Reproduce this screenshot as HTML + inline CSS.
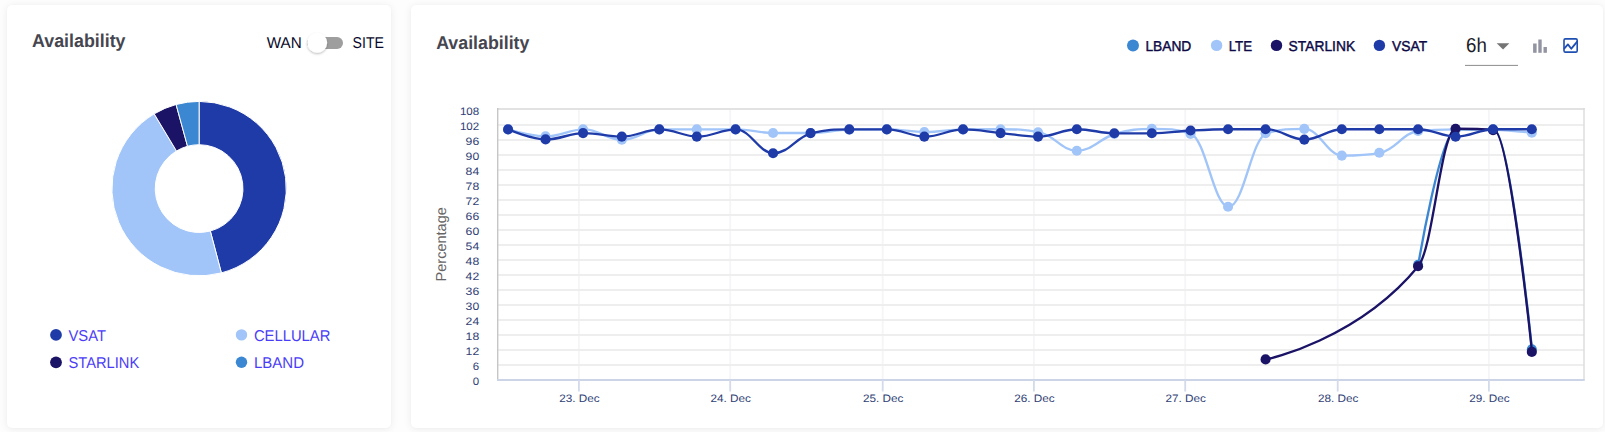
<!DOCTYPE html>
<html><head><meta charset="utf-8"><title>Availability</title>
<style>
html,body{margin:0;padding:0;}
body{width:1605px;height:432px;background:#fdfdfd;overflow:hidden;position:relative;font-family:"Liberation Sans",sans-serif;}
.card{position:absolute;background:#fff;border-radius:5px;box-shadow:0 1px 9px rgba(0,0,0,.075),0 0 2px rgba(0,0,0,.025);}
#c1{left:7px;top:5px;width:384px;height:423px;}
#c2{left:411px;top:5px;width:1192px;height:423px;}
svg{position:absolute;left:0;top:0;}
text{font-family:"Liberation Sans",sans-serif;text-rendering:geometricPrecision;}
.h{font-size:18.6px;font-weight:bold;fill:#45464f;}
.sw{font-size:15.7px;fill:#08082a;}
.lg{font-size:15.7px;fill:#4a3df7;}
.lr{font-size:14.4px;fill:#0e0a46;stroke:#0e0a46;stroke-width:.42px;}
.ax{font-size:10.8px;fill:#2f4175;}
.yt{font-size:14.5px;fill:#666;}
.sel{font-size:20.2px;fill:#1d1d27;}
</style></head><body>
<div class="card" id="c1"></div><div class="card" id="c2"></div>
<svg width="1605" height="432" viewBox="0 0 1605 432">
<defs><filter id="ts" x="-50%" y="-50%" width="200%" height="200%"><feDropShadow dx="0" dy="1.2" stdDeviation="1.3" flood-color="#000" flood-opacity=".27"/></filter></defs>
<!-- left card -->
<text x="32.1" y="46.5" textLength="93.4" lengthAdjust="spacingAndGlyphs" class="h">Availability</text>

<text x="266.8" y="47.9" textLength="35.0" lengthAdjust="spacingAndGlyphs" class="sw">WAN</text>

<text x="352.6" y="47.9" textLength="31.4" lengthAdjust="spacingAndGlyphs" class="sw">SITE</text>

<rect x="307" y="36.9" width="36" height="12" rx="6" fill="#9e9e9e"/>
<circle cx="317.2" cy="42.8" r="10" fill="#fff" filter="url(#ts)"/>
<path d="M199.10 101.40A87.2 87.2 0 0 1 221.37 272.91L210.31 231.04A43.9 43.9 0 0 0 199.10 144.70Z" fill="#1f3ba8" stroke="#fff" stroke-width="1" stroke-linejoin="round"/>
<path d="M221.37 272.91A87.2 87.2 0 0 1 154.19 113.86L176.49 150.97A43.9 43.9 0 0 0 210.31 231.04Z" fill="#a1c5f8" stroke="#fff" stroke-width="1" stroke-linejoin="round"/>
<path d="M154.19 113.86A87.2 87.2 0 0 1 176.09 104.49L187.52 146.26A43.9 43.9 0 0 0 176.49 150.97Z" fill="#1b1366" stroke="#fff" stroke-width="1" stroke-linejoin="round"/>
<path d="M176.09 104.49A87.2 87.2 0 0 1 199.10 101.40L199.10 144.70A43.9 43.9 0 0 0 187.52 146.26Z" fill="#3c87d2" stroke="#fff" stroke-width="1" stroke-linejoin="round"/>

<circle cx="56" cy="334.9" r="5.9" fill="#1f3ba8"/><text x="68.5" y="340.8" textLength="37.5" lengthAdjust="spacingAndGlyphs" class="lg">VSAT</text>

<circle cx="56" cy="362.3" r="5.9" fill="#1b1366"/><text x="68.5" y="367.6" textLength="70.8" lengthAdjust="spacingAndGlyphs" class="lg">STARLINK</text>

<circle cx="241.5" cy="334.9" r="5.7" fill="#a1c5f8"/><text x="253.9" y="340.8" textLength="76.5" lengthAdjust="spacingAndGlyphs" class="lg">CELLULAR</text>

<circle cx="241.5" cy="362.3" r="5.7" fill="#3c87d2"/><text x="253.9" y="367.6" textLength="50.1" lengthAdjust="spacingAndGlyphs" class="lg">LBAND</text>

<!-- right card -->
<text x="436.2" y="48.7" textLength="93.2" lengthAdjust="spacingAndGlyphs" class="h">Availability</text>

<circle cx="1133" cy="45.4" r="6" fill="#3c87d2"/><text x="1145.4" y="50.9" textLength="45.9" lengthAdjust="spacingAndGlyphs" class="lr">LBAND</text>

<circle cx="1216.6" cy="45.4" r="5.7" fill="#a1c5f8"/><text x="1228.7" y="50.9" textLength="23.4" lengthAdjust="spacingAndGlyphs" class="lr">LTE</text>

<circle cx="1276.5" cy="45.4" r="5.7" fill="#1b1366"/><text x="1288.6" y="50.9" textLength="66.5" lengthAdjust="spacingAndGlyphs" class="lr">STARLINK</text>

<circle cx="1379.4" cy="45.4" r="5.7" fill="#1f3ba8"/><text x="1392.1" y="50.9" textLength="35.0" lengthAdjust="spacingAndGlyphs" class="lr">VSAT</text>

<text x="1466" y="51.8" textLength="20.8" lengthAdjust="spacingAndGlyphs" class="sel">6h</text>

<path d="M1496.7 43.2h12.7l-6.35 6.3z" fill="#757575"/>
<rect x="1465" y="64.9" width="53" height="1" fill="#8d8d8d"/>
<g fill="#9394a2"><rect x="1533.1" y="43.5" width="3.5" height="9.3"/><rect x="1538.3" y="39.5" width="3.4" height="13.3"/><rect x="1543.5" y="47" width="3.4" height="5.8"/></g>
<g fill="none" stroke="#1f4fb0" stroke-width="1.6" stroke-linejoin="round" stroke-linecap="round">
<rect x="1564" y="38.9" width="13.2" height="13.2" rx="1.4"/>
<path d="M1564.4 48.3L1567.9 44.4L1571.3 48.7L1577.2 41.6" stroke-width="1.8"/></g>
<!-- chart -->
<rect x="578.00" y="109.0" width="1.8" height="271.0" fill="#f5f5f8"/><rect x="729.30" y="109.0" width="1.8" height="271.0" fill="#f5f5f8"/><rect x="881.80" y="109.0" width="1.8" height="271.0" fill="#f5f5f8"/><rect x="1033.00" y="109.0" width="1.8" height="271.0" fill="#f5f5f8"/><rect x="1184.30" y="109.0" width="1.8" height="271.0" fill="#f5f5f8"/><rect x="1336.80" y="109.0" width="1.8" height="271.0" fill="#f5f5f8"/><rect x="1488.00" y="109.0" width="1.8" height="271.0" fill="#f5f5f8"/><rect x="497.7" y="364" width="1086.3" height="2" fill="#eeeeee"/><rect x="497.7" y="349" width="1086.3" height="2" fill="#eeeeee"/><rect x="497.7" y="334" width="1086.3" height="2" fill="#eeeeee"/><rect x="497.7" y="319" width="1086.3" height="2" fill="#eeeeee"/><rect x="497.7" y="304" width="1086.3" height="2" fill="#eeeeee"/><rect x="497.7" y="289" width="1086.3" height="2" fill="#eeeeee"/><rect x="497.7" y="274" width="1086.3" height="2" fill="#eeeeee"/><rect x="497.7" y="259" width="1086.3" height="2" fill="#eeeeee"/><rect x="497.7" y="244" width="1086.3" height="2" fill="#eeeeee"/><rect x="497.7" y="229" width="1086.3" height="2" fill="#eeeeee"/><rect x="497.7" y="214" width="1086.3" height="2" fill="#eeeeee"/><rect x="497.7" y="199" width="1086.3" height="2" fill="#eeeeee"/><rect x="497.7" y="184" width="1086.3" height="2" fill="#eeeeee"/><rect x="497.7" y="169" width="1086.3" height="2" fill="#eeeeee"/><rect x="497.7" y="154" width="1086.3" height="2" fill="#eeeeee"/><rect x="497.7" y="139" width="1086.3" height="2" fill="#eeeeee"/><rect x="497.7" y="124" width="1086.3" height="2" fill="#eeeeee"/>
<rect x="497.0" y="108" width="1087.7" height="2" fill="#e2e2e2"/><rect x="497.0" y="108" width="1.4" height="272" fill="#c6c6c6"/><rect x="1583.3" y="108" width="1.4" height="272" fill="#dcdcdc"/><rect x="497.0" y="379" width="1087.7" height="2" fill="#ccd4e8"/><rect x="578.00" y="380" width="1.8" height="11.5" fill="#d3daec"/><rect x="729.30" y="380" width="1.8" height="11.5" fill="#d3daec"/><rect x="881.80" y="380" width="1.8" height="11.5" fill="#d3daec"/><rect x="1033.00" y="380" width="1.8" height="11.5" fill="#d3daec"/><rect x="1184.30" y="380" width="1.8" height="11.5" fill="#d3daec"/><rect x="1336.80" y="380" width="1.8" height="11.5" fill="#d3daec"/><rect x="1488.00" y="380" width="1.8" height="11.5" fill="#d3daec"/>

<text x="472.8" y="384.6" textLength="6.4" lengthAdjust="spacingAndGlyphs" class="ax">0</text><text x="472.8" y="369.6" textLength="6.4" lengthAdjust="spacingAndGlyphs" class="ax">6</text><text x="465.6" y="354.6" textLength="13.6" lengthAdjust="spacingAndGlyphs" class="ax">12</text><text x="465.6" y="339.6" textLength="13.6" lengthAdjust="spacingAndGlyphs" class="ax">18</text><text x="465.6" y="324.6" textLength="13.6" lengthAdjust="spacingAndGlyphs" class="ax">24</text><text x="465.6" y="309.6" textLength="13.6" lengthAdjust="spacingAndGlyphs" class="ax">30</text><text x="465.6" y="294.6" textLength="13.6" lengthAdjust="spacingAndGlyphs" class="ax">36</text><text x="465.6" y="279.6" textLength="13.6" lengthAdjust="spacingAndGlyphs" class="ax">42</text><text x="465.6" y="264.6" textLength="13.6" lengthAdjust="spacingAndGlyphs" class="ax">48</text><text x="465.6" y="249.6" textLength="13.6" lengthAdjust="spacingAndGlyphs" class="ax">54</text><text x="465.6" y="234.6" textLength="13.6" lengthAdjust="spacingAndGlyphs" class="ax">60</text><text x="465.6" y="219.6" textLength="13.6" lengthAdjust="spacingAndGlyphs" class="ax">66</text><text x="465.6" y="204.6" textLength="13.6" lengthAdjust="spacingAndGlyphs" class="ax">72</text><text x="465.6" y="189.6" textLength="13.6" lengthAdjust="spacingAndGlyphs" class="ax">78</text><text x="465.6" y="174.6" textLength="13.6" lengthAdjust="spacingAndGlyphs" class="ax">84</text><text x="465.6" y="159.6" textLength="13.6" lengthAdjust="spacingAndGlyphs" class="ax">90</text><text x="465.6" y="144.6" textLength="13.6" lengthAdjust="spacingAndGlyphs" class="ax">96</text><text x="459.9" y="129.6" textLength="19.3" lengthAdjust="spacingAndGlyphs" class="ax">102</text><text x="459.9" y="114.6" textLength="19.3" lengthAdjust="spacingAndGlyphs" class="ax">108</text>
<text x="559.2" y="402.2" textLength="40.5" lengthAdjust="spacingAndGlyphs" class="ax">23. Dec</text><text x="710.5" y="402.2" textLength="40.5" lengthAdjust="spacingAndGlyphs" class="ax">24. Dec</text><text x="863.0" y="402.2" textLength="40.5" lengthAdjust="spacingAndGlyphs" class="ax">25. Dec</text><text x="1014.2" y="402.2" textLength="40.5" lengthAdjust="spacingAndGlyphs" class="ax">26. Dec</text><text x="1165.5" y="402.2" textLength="40.5" lengthAdjust="spacingAndGlyphs" class="ax">27. Dec</text><text x="1318.0" y="402.2" textLength="40.5" lengthAdjust="spacingAndGlyphs" class="ax">28. Dec</text><text x="1469.2" y="402.2" textLength="40.5" lengthAdjust="spacingAndGlyphs" class="ax">29. Dec</text>
<text transform="translate(446,244.3) rotate(-90)" text-anchor="middle" textLength="74.3" lengthAdjust="spacingAndGlyphs" class="yt">Percentage</text>
<path d="M1418.27 264.70 C1418.27 264.70 1441.02 129.40 1456.19 129.40 C1471.36 129.40 1478.94 129.40 1494.11 129.60 C1509.27 129.80 1532.02 349.40 1532.02 349.40" fill="none" stroke="#3c87d2" stroke-width="2.35" stroke-linejoin="round" stroke-linecap="round"/>
<circle cx="1418.06" cy="264.70" r="5.05" fill="#3c87d2"/><circle cx="1455.56" cy="129.40" r="5.05" fill="#3c87d2"/><circle cx="1493.06" cy="129.60" r="5.05" fill="#3c87d2"/><circle cx="1531.81" cy="349.40" r="5.05" fill="#3c87d2"/>

<path d="M508.27 129.40 C508.27 129.40 531.02 136.30 546.19 136.30 C561.36 136.30 568.94 129.40 584.11 129.40 C599.27 129.40 606.86 139.80 622.02 139.80 C637.19 139.80 644.77 129.40 659.94 129.40 C675.11 129.40 682.69 129.40 697.86 129.40 C713.02 129.40 720.61 129.40 735.77 129.40 C750.94 129.40 758.52 133.00 773.69 133.00 C788.86 133.00 796.44 133.00 811.61 133.00 C826.77 133.00 834.36 129.80 849.52 129.60 C864.69 129.40 872.27 129.40 887.44 129.40 C902.61 129.40 910.19 132.00 925.36 132.00 C940.52 132.00 948.11 129.60 963.27 129.40 C978.44 129.20 986.02 129.20 1001.19 129.20 C1016.36 129.20 1023.94 129.20 1039.11 132.20 C1054.27 135.20 1061.86 150.80 1077.02 150.80 C1092.19 150.80 1099.77 138.40 1114.94 134.00 C1130.11 129.60 1137.69 128.80 1152.86 128.80 C1168.02 128.80 1175.61 128.80 1190.77 133.90 C1205.94 139.00 1213.52 206.70 1228.69 206.70 C1243.86 206.70 1251.44 137.70 1266.61 133.30 C1281.77 128.90 1289.36 128.90 1304.52 128.90 C1319.69 128.90 1327.27 155.60 1342.44 155.60 C1357.61 155.60 1365.19 155.60 1380.36 152.80 C1395.52 150.00 1403.11 132.60 1418.27 131.00 C1433.44 129.40 1441.02 129.40 1456.19 129.40 C1471.36 129.40 1478.94 129.40 1494.11 129.80 C1509.27 130.20 1532.02 132.80 1532.02 132.80" fill="none" stroke="#a1c5f8" stroke-width="2.35" stroke-linejoin="round" stroke-linecap="round"/>
<circle cx="508.06" cy="129.40" r="5.05" fill="#a1c5f8"/><circle cx="545.56" cy="136.30" r="5.05" fill="#a1c5f8"/><circle cx="583.06" cy="129.40" r="5.05" fill="#a1c5f8"/><circle cx="621.81" cy="139.80" r="5.05" fill="#a1c5f8"/><circle cx="659.31" cy="129.40" r="5.05" fill="#a1c5f8"/><circle cx="696.81" cy="129.40" r="5.05" fill="#a1c5f8"/><circle cx="735.56" cy="129.40" r="5.05" fill="#a1c5f8"/><circle cx="773.06" cy="133.00" r="5.05" fill="#a1c5f8"/><circle cx="810.56" cy="133.00" r="5.05" fill="#a1c5f8"/><circle cx="849.31" cy="129.60" r="5.05" fill="#a1c5f8"/><circle cx="886.81" cy="129.40" r="5.05" fill="#a1c5f8"/><circle cx="924.31" cy="132.00" r="5.05" fill="#a1c5f8"/><circle cx="963.06" cy="129.40" r="5.05" fill="#a1c5f8"/><circle cx="1000.56" cy="129.20" r="5.05" fill="#a1c5f8"/><circle cx="1038.06" cy="132.20" r="5.05" fill="#a1c5f8"/><circle cx="1076.81" cy="150.80" r="5.05" fill="#a1c5f8"/><circle cx="1114.31" cy="134.00" r="5.05" fill="#a1c5f8"/><circle cx="1151.81" cy="128.80" r="5.05" fill="#a1c5f8"/><circle cx="1190.56" cy="133.90" r="5.05" fill="#a1c5f8"/><circle cx="1228.06" cy="206.70" r="5.05" fill="#a1c5f8"/><circle cx="1265.56" cy="133.30" r="5.05" fill="#a1c5f8"/><circle cx="1304.31" cy="128.90" r="5.05" fill="#a1c5f8"/><circle cx="1341.81" cy="155.60" r="5.05" fill="#a1c5f8"/><circle cx="1379.31" cy="152.80" r="5.05" fill="#a1c5f8"/><circle cx="1418.06" cy="131.00" r="5.05" fill="#a1c5f8"/><circle cx="1455.56" cy="129.40" r="5.05" fill="#a1c5f8"/><circle cx="1493.06" cy="129.80" r="5.05" fill="#a1c5f8"/><circle cx="1531.81" cy="132.80" r="5.05" fill="#a1c5f8"/>

<path d="M1266.61 359.40 C1266.61 359.40 1357.61 339.99 1418.27 266.20 C1433.44 247.75 1441.02 128.80 1456.19 128.80 C1471.36 128.80 1478.94 128.80 1494.11 130.20 C1509.27 131.60 1532.02 351.90 1532.02 351.90" fill="none" stroke="#1b1366" stroke-width="2.35" stroke-linejoin="round" stroke-linecap="round"/>
<circle cx="1265.56" cy="359.40" r="5.05" fill="#1b1366"/><circle cx="1418.06" cy="266.20" r="5.05" fill="#1b1366"/><circle cx="1455.56" cy="128.80" r="5.05" fill="#1b1366"/><circle cx="1493.06" cy="130.20" r="5.05" fill="#1b1366"/><circle cx="1531.81" cy="351.90" r="5.05" fill="#1b1366"/>

<path d="M508.27 129.40 C508.27 129.40 531.02 139.40 546.19 139.40 C561.36 139.40 568.94 133.10 584.11 133.10 C599.27 133.10 606.86 136.60 622.02 136.60 C637.19 136.60 644.77 129.40 659.94 129.40 C675.11 129.40 682.69 136.60 697.86 136.60 C713.02 136.60 720.61 129.40 735.77 129.40 C750.94 129.40 758.52 153.20 773.69 153.20 C788.86 153.20 796.44 136.80 811.61 133.10 C826.77 129.40 834.36 129.40 849.52 129.40 C864.69 129.40 872.27 129.40 887.44 129.40 C902.61 129.40 910.19 136.60 925.36 136.60 C940.52 136.60 948.11 129.40 963.27 129.40 C978.44 129.40 986.02 131.66 1001.19 133.10 C1016.36 134.54 1023.94 136.60 1039.11 136.60 C1054.27 136.60 1061.86 129.20 1077.02 129.20 C1092.19 129.20 1099.77 133.30 1114.94 133.30 C1130.11 133.30 1137.69 133.30 1152.86 133.30 C1168.02 133.30 1175.61 131.32 1190.77 130.50 C1205.94 129.68 1213.52 129.20 1228.69 129.20 C1243.86 129.20 1251.44 129.20 1266.61 129.20 C1281.77 129.20 1289.36 139.60 1304.52 139.60 C1319.69 139.60 1327.27 129.20 1342.44 129.20 C1357.61 129.20 1365.19 129.20 1380.36 129.20 C1395.52 129.20 1403.11 129.20 1418.27 129.20 C1433.44 129.20 1441.02 136.70 1456.19 136.70 C1471.36 136.70 1478.94 129.20 1494.11 129.20 C1509.27 129.20 1532.02 129.20 1532.02 129.20" fill="none" stroke="#1f3ba8" stroke-width="2.35" stroke-linejoin="round" stroke-linecap="round"/>
<circle cx="508.06" cy="129.40" r="5.05" fill="#1f3ba8"/><circle cx="545.56" cy="139.40" r="5.05" fill="#1f3ba8"/><circle cx="583.06" cy="133.10" r="5.05" fill="#1f3ba8"/><circle cx="621.81" cy="136.60" r="5.05" fill="#1f3ba8"/><circle cx="659.31" cy="129.40" r="5.05" fill="#1f3ba8"/><circle cx="696.81" cy="136.60" r="5.05" fill="#1f3ba8"/><circle cx="735.56" cy="129.40" r="5.05" fill="#1f3ba8"/><circle cx="773.06" cy="153.20" r="5.05" fill="#1f3ba8"/><circle cx="810.56" cy="133.10" r="5.05" fill="#1f3ba8"/><circle cx="849.31" cy="129.40" r="5.05" fill="#1f3ba8"/><circle cx="886.81" cy="129.40" r="5.05" fill="#1f3ba8"/><circle cx="924.31" cy="136.60" r="5.05" fill="#1f3ba8"/><circle cx="963.06" cy="129.40" r="5.05" fill="#1f3ba8"/><circle cx="1000.56" cy="133.10" r="5.05" fill="#1f3ba8"/><circle cx="1038.06" cy="136.60" r="5.05" fill="#1f3ba8"/><circle cx="1076.81" cy="129.20" r="5.05" fill="#1f3ba8"/><circle cx="1114.31" cy="133.30" r="5.05" fill="#1f3ba8"/><circle cx="1151.81" cy="133.30" r="5.05" fill="#1f3ba8"/><circle cx="1190.56" cy="130.50" r="5.05" fill="#1f3ba8"/><circle cx="1228.06" cy="129.20" r="5.05" fill="#1f3ba8"/><circle cx="1265.56" cy="129.20" r="5.05" fill="#1f3ba8"/><circle cx="1304.31" cy="139.60" r="5.05" fill="#1f3ba8"/><circle cx="1341.81" cy="129.20" r="5.05" fill="#1f3ba8"/><circle cx="1379.31" cy="129.20" r="5.05" fill="#1f3ba8"/><circle cx="1418.06" cy="129.20" r="5.05" fill="#1f3ba8"/><circle cx="1455.56" cy="136.70" r="5.05" fill="#1f3ba8"/><circle cx="1493.06" cy="129.20" r="5.05" fill="#1f3ba8"/><circle cx="1531.81" cy="129.20" r="5.05" fill="#1f3ba8"/>

</svg>
</body></html>
